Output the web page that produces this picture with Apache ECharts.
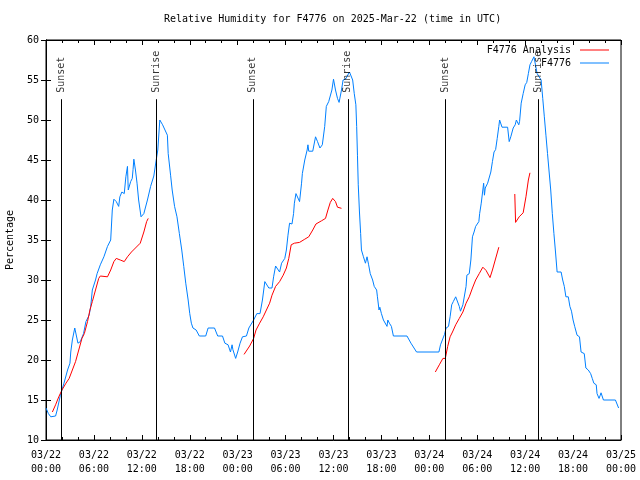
<!DOCTYPE html>
<html>
<head>
<meta charset="utf-8">
<script src="https://cdn.jsdelivr.net/npm/echarts@6/dist/echarts.min.js"></script>
<style>html,body{margin:0;padding:0;background:#fff}#c{width:640px;height:480px}</style>
</head>
<body>
<div id="c"></div>
<script>
// Hours since 03/22 00:00 UTC
const blueHours = [0.0,0.3,0.6,1.2,1.4,1.8,2.25,2.7,3.0,3.1,3.3,3.6,3.8,4.0,4.3,4.7,5.0,5.4,5.6,5.8,6.2,6.4,6.8,7.25,7.7,8.1,8.3,8.5,8.8,9.1,9.25,9.5,9.8,10.0,10.2,10.3,10.6,10.8,10.9,11.0,11.2,11.4,11.6,11.9,12.25,12.7,13.1,13.5,13.8,14.0,14.25,14.6,14.9,15.2,15.3,15.6,15.8,16.1,16.4,16.7,17.0,17.25,17.5,17.8,18.0,18.2,18.4,18.8,19.2,20.0,20.3,21.1,21.5,22.1,22.4,22.8,23.1,23.3,23.4,23.75,24.0,24.3,24.6,25.1,25.4,25.6,26.0,26.4,26.8,27.1,27.4,27.5,27.9,28.3,28.5,28.75,28.9,29.25,29.5,29.9,30.1,30.3,30.5,30.8,31.0,31.1,31.3,31.5,31.75,32.0,32.1,32.4,32.7,32.8,32.9,33.4,33.75,34.0,34.3,34.6,34.9,35.1,35.4,35.5,35.8,36.0,36.25,36.5,36.7,37.0,37.2,37.5,38.0,38.25,38.4,38.6,38.8,38.9,39.0,39.1,39.25,39.4,39.5,39.75,40.0,40.2,40.4,40.6,40.9,41.1,41.4,41.5,41.7,41.8,42.0,42.25,42.4,42.7,42.8,43.0,43.25,43.5,45.2,45.7,46.4,49.2,49.4,49.6,49.9,50.1,50.4,50.6,50.8,51.0,51.3,51.5,51.75,51.9,52.2,52.4,52.6,52.7,53.0,53.2,53.4,53.6,53.8,54.2,54.3,54.5,54.7,54.8,54.9,55.0,55.3,55.4,55.7,55.9,56.1,56.3,56.5,56.7,56.8,57.1,57.8,58.0,58.2,58.5,58.75,58.9,59.2,59.3,59.5,59.75,60.0,60.2,60.4,60.6,60.8,61.1,61.3,61.5,61.7,62.0,62.2,62.4,62.6,62.8,63.0,63.2,63.4,63.6,63.8,64.0,64.5,64.7,64.9,65.1,65.4,65.6,65.8,66.0,66.2,66.5,66.8,67.0,67.4,67.6,67.9,68.2,68.4,68.6,68.9,69.0,69.25,69.4,69.5,69.8,71.3,71.7];
const blueValues = [14.0,13.3,12.9,13.0,13.75,15.6,17.1,18.75,19.6,21.0,22.5,24.0,24.0,22.1,22.3,23.3,24.8,25.6,26.7,28.75,30.0,30.8,31.9,32.9,34.2,35.0,38.75,40.1,39.8,39.2,40.4,41.0,40.8,42.9,44.2,41.25,42.3,42.7,43.8,45.1,43.75,42.1,40.0,37.9,38.3,40.0,41.7,43.0,45.0,46.25,50.0,49.4,48.75,48.1,45.8,43.1,41.25,39.2,37.9,35.8,33.75,31.7,29.6,27.5,25.8,24.6,24.0,23.75,23.0,23.0,24.0,24.0,23.0,23.0,22.1,21.9,21.0,21.9,21.3,20.2,21.0,22.1,22.9,23.0,24.0,23.75,25.0,25.8,25.8,27.5,29.8,29.8,29.0,29.0,30.4,31.75,31.75,31.0,32.1,32.7,33.75,35.6,37.1,37.0,38.3,39.6,40.8,40.6,39.8,42.1,43.3,45.0,46.25,46.9,46.1,46.1,47.9,47.3,46.5,46.9,49.2,51.7,52.3,52.3,53.75,55.1,53.75,52.7,52.2,53.75,55.0,55.1,56.0,55.9,55.0,53.3,51.9,49.2,45.6,41.9,38.5,35.8,33.75,32.9,32.1,32.9,31.9,30.8,30.0,29.2,28.75,27.9,26.25,26.6,25.8,25.0,24.9,24.2,25.0,24.6,24.2,23.0,23.0,22.1,21.0,21.0,21.9,22.1,23.2,24.0,24.2,25.4,26.9,27.3,27.9,27.7,26.7,26.1,26.9,27.1,29.2,30.6,30.8,32.5,35.4,36.0,36.7,37.3,38.3,39.6,41.25,42.1,40.6,41.5,42.1,42.3,43.5,44.8,46.0,46.3,47.7,49.2,50.0,49.1,49.1,47.3,47.9,49.0,49.4,50.0,49.4,49.8,52.1,53.3,54.4,54.7,55.8,56.9,57.3,57.9,58.1,55.8,56.0,55.0,52.7,50.4,48.1,45.8,43.5,41.25,38.3,35.8,33.5,31.0,31.0,30.0,29.2,27.9,27.9,26.7,26.1,25.0,24.2,23.1,22.9,21.0,20.8,19.0,18.75,18.3,17.7,17.1,16.9,15.8,15.2,15.6,15.9,15.0,15.0,14.0];

const redHours = [0.8,1.2,1.6,2.0,2.5,2.9,3.3,3.7,4.1,4.5,4.8,5.2,5.5,5.8,6.2,6.6,6.8,7.7,8.1,8.5,8.8,9.3,9.8,10.2,10.7,11.2,11.8,12.25,12.6,12.8,
  18.0,
  24.8,25.5,26.0,26.3,26.75,27.2,27.6,28.0,28.3,28.75,29.25,29.7,30.1,30.4,30.7,31.1,31.75,32.4,32.9,33.4,33.8,34.5,35.0,35.3,35.6,35.9,36.25,36.5,37.0,
  43.0,
  48.75,49.25,49.7,50.0,50.3,50.6,50.9,51.3,51.75,52.2,52.6,53.0,53.4,53.8,54.25,54.7,55.1,55.6,55.9,56.25,56.7,
  57.7,
  58.7,58.8,59.25,59.75,60.1,60.4,60.6];
const redValues = [13.5,14.4,15.4,16.25,17.1,17.7,18.75,19.8,21.25,22.7,23.3,24.8,26.25,27.3,28.75,30.2,30.5,30.4,31.25,32.3,32.7,32.5,32.3,32.9,33.5,34.0,34.6,36.0,37.3,37.7,
  null,
  20.7,21.75,22.7,23.75,24.6,25.4,26.25,27.1,28.1,29.2,29.8,30.6,31.5,32.7,34.4,34.6,34.7,35.1,35.4,36.25,37.0,37.4,37.7,38.75,39.7,40.2,39.8,39.1,38.96,
  null,
  18.5,19.4,20.2,20.2,21.7,22.9,23.5,24.4,25.2,26.0,27.1,27.9,29.0,30.0,30.8,31.6,31.2,30.3,31.25,32.5,34.1,
  null,
  40.75,37.2,37.9,38.4,40.4,42.5,43.4];

const sunNames = ['Sunset','Sunrise','Sunset','Sunrise','Sunset','Sunrise'];
const sunHours = [1.92, 13.8, 25.9, 37.8, 49.95, 61.7];
const sunLineTop = 52.6;
const sunLabelBase = 53.4;

const FONT = 'DejaVu Sans Mono';
const blueData = blueHours.map((h,i)=>[h, blueValues[i]]);
const redData = redHours.map((h,i)=>[h, redValues[i] === null ? '-' : redValues[i]]);

function xLabel(v){
  const day = 22 + Math.floor(v/24);
  const hh = Math.round(v % 24);
  return '03/' + day + '\n' + (hh<10?'0':'') + hh + ':00';
}

const chart = echarts.init(document.getElementById('c'), null, {renderer:'canvas'});
chart.setOption({
  animation: false,
  backgroundColor: '#fff',
  textStyle: {fontFamily: FONT, fontSize: 10, color: '#000'},
  title: {
    text: 'Relative Humidity for F4776 on 2025-Mar-22 (time in UTC)',
    left: 164, top: 14, padding: 0,
    textStyle: {fontFamily: FONT, fontSize: 10, fontWeight: 'normal', color: '#000'}
  },
  legend: {
    data: ['F4776 Analysis','F4776'],
    orient: 'vertical', align: 'right', right: 31, top: 44, padding: 0,
    icon: 'rect', itemWidth: 29, itemHeight: 1, itemGap: 1,
    textStyle: {fontFamily: FONT, fontSize: 10, color: '#000', padding: [0,4,0,0], lineHeight: 12}
  },
  grid: {left: 46, right: 19, top: 40, bottom: 40, show: true, borderColor: '#000', borderWidth: 1, containLabel: false, outerBoundsMode: 'none'},
  xAxis: [{
    type: 'value', min: 0, max: 72, interval: 6,
    axisLine: {lineStyle: {color: '#000'}},
    axisTick: {inside: true, length: 5, lineStyle: {color: '#000'}},
    minorTick: {show: true, splitNumber: 3, length: 3, lineStyle: {color: '#000'}},
    splitLine: {show: false},
    axisLabel: {formatter: xLabel, fontFamily: FONT, fontSize: 10, color: '#000', lineHeight: 14, margin: 8, showMinLabel: true, showMaxLabel: true}
  },{
    type: 'value', min: 0, max: 72, interval: 6, position: 'top',
    axisLine: {lineStyle: {color: '#000'}},
    axisTick: {inside: true, length: 5, lineStyle: {color: '#000'}},
    minorTick: {show: true, splitNumber: 3, length: 3, lineStyle: {color: '#000'}},
    splitLine: {show: false}, axisLabel: {show: false}
  }],
  yAxis: [{
    type: 'value', min: 10, max: 60, interval: 5,
    name: 'Percentage', nameLocation: 'middle', nameGap: 31, nameRotate: 90,
    nameTextStyle: {fontFamily: FONT, fontSize: 10, color: '#000'},
    axisLine: {show: true, lineStyle: {color: '#000'}},
    axisTick: {show: true, inside: true, length: 5, lineStyle: {color: '#000'}},
    splitLine: {show: false},
    axisLabel: {fontFamily: FONT, fontSize: 10, color: '#000', margin: 7}
  },{
    type: 'value', min: 10, max: 60, interval: 5, position: 'right',
    axisLine: {show: true, lineStyle: {color: '#000'}},
    axisTick: {show: true, inside: true, length: 5, lineStyle: {color: '#000'}},
    splitLine: {show: false}, axisLabel: {show: false}
  }],
  series: [{
    name: 'F4776 Analysis', type: 'line', data: redData, symbol: 'none', connectNulls: false,
    lineStyle: {color: '#ff0000', width: 1}, itemStyle: {color: '#ff0000'}, z: 3
  },{
    name: 'F4776', type: 'line', data: blueData, symbol: 'none',
    lineStyle: {color: '#0080ff', width: 1}, itemStyle: {color: '#0080ff'}, z: 2
  },{
    name: 'sun', type: 'scatter', symbolSize: 1, z: 4,
    itemStyle: {color: 'rgba(0,0,0,0)'},
    data: sunHours.map((h,i)=>({name: sunNames[i], value: [h, sunLabelBase]})),
    label: {show: true, formatter: '{b}', position: 'inside', rotate: 90, align: 'left', verticalAlign: 'middle',
      fontFamily: FONT, fontSize: 10, color: '#000'},
    markLine: {
      silent: true, symbol: 'none', animation: false,
      label: {show: false},
      lineStyle: {color: '#000', width: 1, type: 'solid'},
      data: sunHours.map(h=>[{coord: [h, 10]}, {coord: [h, sunLineTop]}])
    }
  }]
});
</script>
</body>
</html>
